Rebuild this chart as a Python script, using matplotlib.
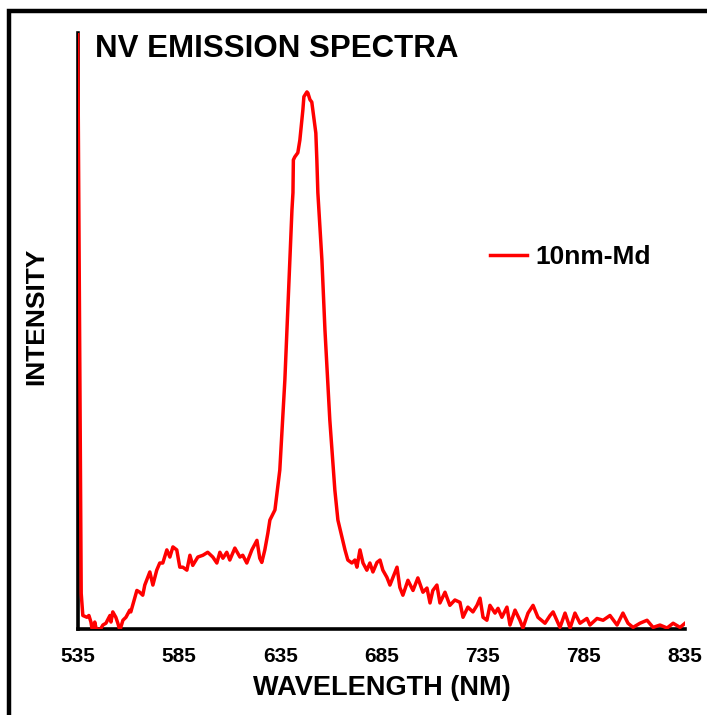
import matplotlib
matplotlib.use("Agg")
import matplotlib.pyplot as plt
from matplotlib.patches import Rectangle

plt.rcParams['font.family'] = ['Liberation Sans', 'DejaVu Sans']
plt.rcParams['font.weight'] = 'bold'

# NV emission spectrum
wavelength = [
    535.0, 536.3, 536.7, 537.5, 539.5, 540.5, 541.5, 542.2, 543.4, 544.0,
    545.9, 547.4, 548.9, 550.9, 551.4, 552.3, 553.8, 554.8, 555.8, 557.3,
    558.8, 560.7, 561.2, 564.2, 565.6, 567.1, 568.1, 570.6, 572.1, 574.0,
    575.5, 577.0, 579.0, 580.5, 582.0, 583.9, 585.4, 586.9, 588.9, 590.4,
    591.8, 594.3, 596.8, 599.2, 601.7, 603.7, 605.2, 606.7, 608.6, 610.1,
    612.6, 615.1, 616.5, 618.5, 621.0, 623.5, 624.9, 625.9, 627.4, 628.9,
    629.9, 632.4, 634.8, 637.3, 639.8, 640.8, 641.3, 641.5, 642.2, 643.7,
    644.7, 645.7, 646.2, 646.7, 648.2, 648.7, 649.7, 650.6, 651.1, 652.6,
    653.1, 653.6, 654.6, 655.6, 657.1, 659.5, 662.0, 663.5, 665.5, 667.0,
    668.4, 670.4, 671.9, 672.9, 674.4, 675.9, 677.8, 679.3, 680.8, 682.8,
    684.3, 685.7, 687.7, 689.2, 690.7, 692.7, 694.1, 695.6, 698.1, 700.6,
    703.0, 705.5, 707.5, 709.0, 710.4, 712.4, 713.9, 716.4, 718.8, 721.3,
    723.8, 725.3, 727.7, 730.2, 732.2, 733.7, 735.2, 737.1, 738.6, 741.1,
    742.6, 744.5, 747.0, 748.5, 751.0, 753.4, 754.9, 757.4, 759.9, 762.3,
    765.8, 768.3, 769.8, 773.2, 775.7, 778.2, 780.6, 783.1, 786.5, 788.0,
    791.5, 794.5, 797.9, 801.4, 804.3, 806.8, 809.3, 812.7, 816.2, 819.2,
    822.6, 826.1, 829.1, 832.5, 835.0,
]
intensity = [
    0.997, 0.300, 0.060, 0.023, 0.020, 0.023, 0.012, -0.002, 0.012, 0.002,
    -0.002, 0.007, 0.010, 0.023, 0.012, 0.029, 0.020, 0.010, -0.002, 0.015,
    0.020, 0.032, 0.029, 0.065, 0.062, 0.057, 0.074, 0.096, 0.074, 0.099,
    0.111, 0.111, 0.133, 0.121, 0.138, 0.133, 0.104, 0.104, 0.099, 0.124,
    0.107, 0.121, 0.124, 0.129, 0.121, 0.111, 0.129, 0.119, 0.129, 0.116,
    0.136, 0.121, 0.124, 0.111, 0.133, 0.149, 0.119, 0.112, 0.133, 0.161,
    0.183, 0.200, 0.267, 0.418, 0.619, 0.703, 0.732, 0.787, 0.792, 0.799,
    0.820, 0.854, 0.871, 0.893, 0.901, 0.899, 0.888, 0.884, 0.871, 0.832,
    0.787, 0.732, 0.674, 0.619, 0.502, 0.351, 0.233, 0.183, 0.154, 0.133,
    0.116, 0.111, 0.116, 0.104, 0.133, 0.111, 0.099, 0.111, 0.096, 0.112,
    0.116, 0.099, 0.087, 0.074, 0.087, 0.104, 0.070, 0.057, 0.082, 0.065,
    0.086, 0.062, 0.069, 0.044, 0.065, 0.074, 0.044, 0.062, 0.040, 0.049,
    0.045, 0.020, 0.037, 0.029, 0.040, 0.052, 0.020, 0.015, 0.040, 0.027,
    0.035, 0.020, 0.037, 0.007, 0.032, 0.015, 0.002, 0.027, 0.040, 0.020,
    0.010, 0.023, 0.029, 0.003, 0.027, 0.002, 0.027, 0.010, 0.018, 0.007,
    0.018, 0.015, 0.023, 0.007, 0.027, 0.010, 0.003, 0.010, 0.015, 0.003,
    0.007, 0.002, 0.010, 0.003, 0.010,
]
xticks = [535, 585, 635, 685, 735, 785, 835]

fig = plt.figure(figsize=(7.07, 7.15), dpi=100)
ax = fig.add_axes([0.110, 0.120, 0.859, 0.834])

ax.plot(wavelength, intensity, color='red', linewidth=2.5, label='10nm-Md',
        zorder=3, clip_on=True)

ax.set_xlim(535, 835)
ax.set_ylim(0, 1.0)
ax.set_xticks(xticks)
ax.set_xticklabels([str(t) for t in xticks])
ax.set_yticks([])
ax.tick_params(axis='x', length=0, pad=13, labelsize=15)

for side in ['top', 'right']:
    ax.spines[side].set_visible(False)
for side in ['left', 'bottom']:
    ax.spines[side].set_linewidth(2.6)
    ax.spines[side].set_color('black')

ax.set_xlabel('WAVELENGTH (NM)', fontsize=19.5, fontweight='bold')
ax.xaxis.set_label_coords(0.501, -0.099)
ax.xaxis.label.set_va('center')
ax.set_ylabel('INTENSITY', fontsize=19, fontweight='bold')
ax.yaxis.set_label_coords(-0.069, 0.525)
ax.yaxis.label.set_va('center')

ax.text(0.028, 0.973, 'NV EMISSION SPECTRA', transform=ax.transAxes,
        fontsize=22.5, fontweight='bold', ha='left', va='center')

ax.legend(loc='center left', bbox_to_anchor=(0.679, 0.624), frameon=False,
          fontsize=19, handlelength=1.4, handletextpad=0.3,
          borderpad=0, borderaxespad=0)

# thick frame around the whole picture (right and bottom run off the edge)
fig.patches.append(Rectangle((9 / 707, -0.2), 1.3, 0.2 + (1 - 11 / 715),
                             transform=fig.transFigure, fill=False,
                             edgecolor='black', linewidth=3.2))

fig.savefig('out.png', dpi=100)
